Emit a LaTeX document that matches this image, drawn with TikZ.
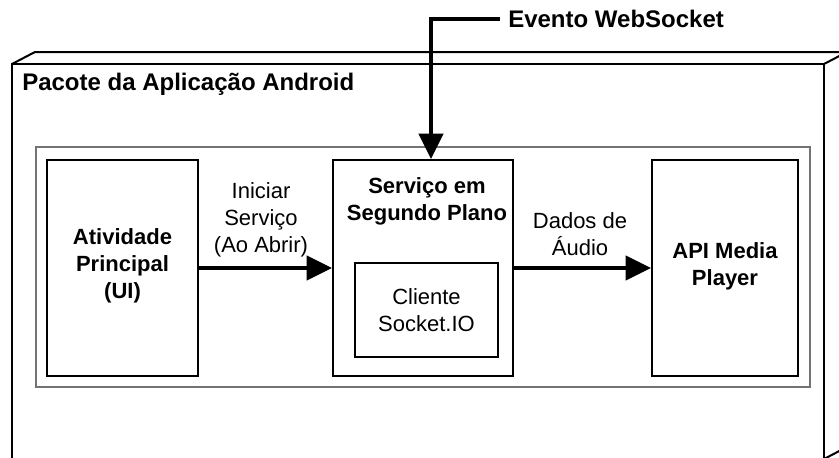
\documentclass[tikz,border=0pt]{standalone}
\usepackage{fontspec}
\setmainfont{Liberation Sans}
\usetikzlibrary{arrows.meta}
\tikzset{
  edge/.style={black, line width=1.5pt},
  box/.style={draw=black, line width=1.5pt, fill=white, inner sep=0pt},
  frame/.style={draw=black!55, line width=1.2pt},
  big/.style={font=\fontsize{18pt}{20pt}\selectfont\bfseries},
  lbl/.style={align=center, font=\fontsize{16.5pt}{20.25pt}\selectfont},
  blbl/.style={lbl, font=\fontsize{16.5pt}{20.25pt}\selectfont\bfseries},
  flow/.style={line width=3.2pt, -{Triangle[length=19pt, width=18pt]}},
}
\begin{document}
\begin{tikzpicture}[x=0.75pt, y=-0.75pt]
\useasboundingbox (0,0) rectangle (839,457);
\clip (0,0) rectangle (839,457);
\fill[white] (0,0) rectangle (839,457);

% package outline drawn as an open box: back edges, then the front face
\draw[edge, line join=round] (12,64) -- (35,52) -- (847,52) -- (847,447) -- (824,459);
\draw[edge, line join=round] (824,64) -- (847,52);
\draw[edge] (12,470) -- (12,64) -- (824,64) -- (824,470);
\node[big, anchor=west, inner sep=0pt] (pkg) at (22,84) {Pacote da Aplicação Android};

% inner grey container
\draw[frame] (36,147) rectangle (810,387);

% components
\node[box, minimum width=113.25pt, minimum height=162pt] (act) at (122.5,268) {};
\node[blbl] at (122.5,266) {Atividade\\Principal\\(UI)};

\node[box, minimum width=135pt, minimum height=162pt] (svc) at (423,268) {};
\node[blbl] (svct) at (427,201) {Serviço em\\Segundo Plano};
\node[box, minimum width=107.25pt, minimum height=70.5pt, lbl] (cli) at (426.5,310) {Cliente\\Socket.IO};

\node[box, minimum width=109.5pt, minimum height=162pt] (api) at (725,268) {};
\node[blbl] at (725,266) {API Media\\Player};

% flows
\draw[flow] (act.east) -- (svc.west);
\node[lbl] (start) at (261,220) {Iniciar\\Serviço\\(Ao Abrir)};

\draw[flow] (svc.east) -- (api.west);
\node[lbl] (audio) at (580,234) {Dados de\\Áudio};

% incoming WebSocket event
\node[big, anchor=west, inner sep=0pt] (evt) at (508,19) {Evento WebSocket};
\coordinate (evtEnd) at (500,19);
\draw[line width=3.2pt, -{Triangle[length=19pt, width=18pt]}] (evtEnd) -| ([xshift=6pt]svc.north);
\end{tikzpicture}
\end{document}
